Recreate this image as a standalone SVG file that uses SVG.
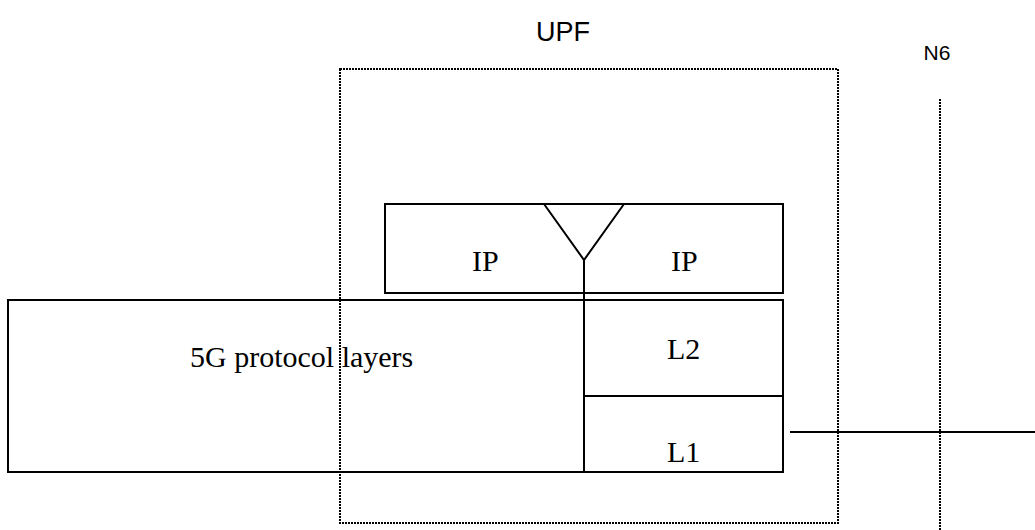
<svg xmlns="http://www.w3.org/2000/svg" width="1035" height="530" viewBox="0 0 1035 530">
<style>
.box{fill:none;stroke:#000;stroke-width:2}
.dot{fill:none;stroke:#000;stroke-width:2;stroke-dasharray:2 1}
.ln{stroke:#000;stroke-width:2;fill:none}
.t{font-family:"Liberation Serif","Times New Roman",serif;font-size:30px;fill:#000}
.s{font-family:"Liberation Sans",Arial,sans-serif;fill:#000}
</style>
<rect width="1035" height="530" fill="#fff"/>
<g id="upf">
<rect class="dot" x="340" y="69" width="498" height="454"/>
<text class="s" x="563" y="41" font-size="27" text-anchor="middle">UPF</text>
</g>
<g id="ip-box">
<rect class="box" x="385" y="204" width="398" height="89"/>
<text class="t" x="472" y="271">IP</text>
<text class="t" x="671" y="271">IP</text>
</g>
<g id="5g-box">
<rect class="box" x="8" y="300" width="576" height="172"/>
<text class="t" x="190" y="367">5G protocol layers</text>
</g>
<g id="l2">
<rect class="box" x="584" y="300" width="199" height="96"/>
<text class="t" x="667" y="359">L2</text>
</g>
<g id="l1">
<rect class="box" x="584" y="396" width="199" height="76"/>
<text class="t" x="667" y="462">L1</text>
</g>
<g id="n6">
<line class="dot" x1="940" y1="99" x2="940" y2="530"/>
<text class="s" x="937" y="60" font-size="21" text-anchor="middle">N6</text>
</g>
<g id="connectors">
<polyline class="ln" points="544,204 584,260 624,204"/>
<line class="ln" x1="544" y1="204" x2="624" y2="204" stroke-width="3"/>
<line class="ln" x1="584" y1="260" x2="584" y2="472" stroke-width="3"/>
<line class="ln" x1="790" y1="432" x2="1035" y2="432"/>
</g>
</svg>
